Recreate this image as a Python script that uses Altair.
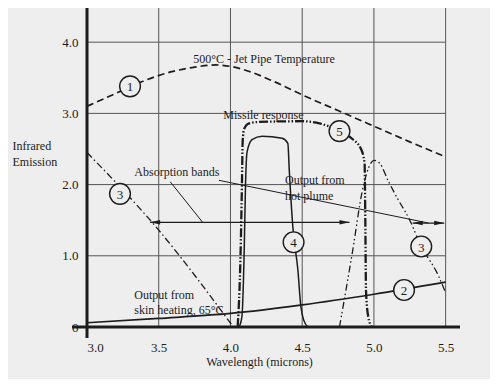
import altair as alt
import pandas as pd

# ---- data ----
c1_x = [3.0, 3.2, 3.4, 3.6, 3.75, 3.9, 4.0, 4.1, 4.3, 4.5, 4.75, 5.0, 5.25, 5.5]
c1_y = [3.10, 3.28, 3.46, 3.59, 3.65, 3.68, 3.66, 3.61, 3.45, 3.26, 3.04, 2.82, 2.60, 2.39]

c2_x = [3.0, 3.5, 4.0, 4.5, 5.0, 5.5]
c2_y = [0.06, 0.12, 0.19, 0.31, 0.46, 0.63]

c3a_x = [3.0, 3.5, 4.02]
c3a_y = [2.45, 1.36, 0.0]

c3b_x = [4.76, 4.85, 4.92, 4.96, 5.0, 5.04, 5.1, 5.16, 5.25, 5.33, 5.44, 5.5]
c3b_y = [0.0, 1.05, 1.92, 2.22, 2.34, 2.30, 2.05, 1.82, 1.50, 1.13, 0.76, 0.48]

c4_x = [4.06, 4.08, 4.095, 4.105, 4.115, 4.15, 4.22, 4.36, 4.40, 4.41, 4.435, 4.47, 4.49, 4.51, 4.54]
c4_y = [0.0, 0.15, 1.0, 2.0, 2.45, 2.63, 2.68, 2.65, 2.58, 2.20, 1.40, 0.80, 0.30, 0.10, 0.0]

c5_x = [4.05, 4.07, 4.08, 4.085, 4.095, 4.13, 4.2, 4.5, 4.62, 4.76, 4.85, 4.91, 4.935, 4.94, 4.945, 4.96, 4.985]
c5_y = [0.0, 1.0, 2.0, 2.6, 2.78, 2.86, 2.88, 2.89, 2.86, 2.75, 2.64, 2.50, 2.30, 1.50, 0.50, 0.15, 0.0]

marker_text = ["1", "2", "3", "3", "4", "5"]
marker_x = [3.30, 5.21, 3.23, 5.33, 4.44, 4.76]
marker_y = [3.38, 0.52, 1.87, 1.13, 1.19, 2.75]

label_text = ["500\u00b0C - Jet Pipe Temperature", "Missile response", "Absorption bands",
              "Output from", "hot plume", "Output from", "skin heating, 65\u00b0C"]
label_x = [3.74, 3.95, 3.33, 4.38, 4.38, 3.33, 3.33]
label_y = [3.76, 2.975, 2.175, 2.06, 1.84, 0.45, 0.24]

band_x1 = [3.44, 5.27]
band_x2 = [4.83, 5.49]
band_y = [1.47, 1.46]

leader_x1 = [3.58, 3.92]
leader_y1 = [2.04, 2.06]
leader_x2 = [3.81, 5.38]
leader_y2 = [1.46, 1.46]

x_ticks = [3.0, 3.5, 4.0, 4.5, 5.0, 5.5]
y_ticks = [0, 1, 2, 3, 4]
grid_x = [3.5, 4.0, 4.5, 5.0, 5.5]
grid_y = [1, 2, 3, 4]

# ---- styling ----
BG = "#eeeeee"
INK = "#1c1c1c"
GRID = "#555555"
FONT = "Liberation Serif"
W, H = 373, 319

X = alt.X("x:Q", scale=alt.Scale(domain=[3.0, 5.6], nice=False, zero=False),
          axis=alt.Axis(values=x_ticks, format=".1f", title="Wavelength (microns)",
                        grid=False, domain=False, ticks=False, tickSize=0,
                        labelPadding=14, labelFontSize=13, labelFont=FONT, labelColor=INK,
                        titleFont=FONT, titleFontSize=12, titleFontWeight="normal",
                        titleColor=INK, titleX=172, titleY=29, titleBaseline="top"))
Y = alt.Y("y:Q", scale=alt.Scale(domain=[0, 4.48], nice=False, zero=True),
          axis=alt.Axis(values=y_ticks,
                        labelExpr="datum.value == 0 ? '0' : format(datum.value, '.1f')",
                        title=["Infrared", "Emission"], titleAngle=0, titleAlign="left",
                        titleBaseline="top", titleX=-75, titleY=132, titleLineHeight=16,
                        grid=False, domain=False, ticks=False, tickSize=0,
                        labelPadding=9, labelFontSize=13, labelFont=FONT, labelColor=INK,
                        titleFont=FONT, titleFontSize=12, titleFontWeight="normal",
                        titleColor=INK))


def line_df(xs, ys):
    return pd.DataFrame({"x": xs, "y": ys, "i": list(range(len(xs)))})


def curve(xs, ys, dash, width):
    kw = dict(color=INK, strokeWidth=width, interpolate="monotone")
    if dash:
        kw["strokeDash"] = dash
    return alt.Chart(line_df(xs, ys)).mark_line(**kw).encode(
        x=X, y=Y, order="i:Q")


vgrid = alt.Chart(pd.DataFrame({"x": grid_x})).mark_rule(color=GRID, strokeWidth=1).encode(x=X)
hgrid = alt.Chart(pd.DataFrame({"y": grid_y, "x": [3.0] * len(grid_y), "x2": [5.5] * len(grid_y)})
                  ).mark_rule(color=GRID, strokeWidth=1).encode(x=X, x2="x2:Q", y=Y)

yaxis_line = alt.Chart(pd.DataFrame({"x": [3.0]})).mark_rule(color=INK, strokeWidth=3).encode(
    x=X, y=alt.value(0), y2=alt.value(H + 11))
xaxis_line = alt.Chart(pd.DataFrame({"y": [0]})).mark_rule(color=INK, strokeWidth=3).encode(
    y=Y, x=alt.value(-15), x2=alt.value(W))

l1 = curve(c1_x, c1_y, [7, 4], 1.7)
l2 = curve(c2_x, c2_y, None, 1.7)
l3a = curve(c3a_x, c3a_y, [7, 3, 1.5, 3], 1.3)
l3b = curve(c3b_x, c3b_y, [7, 3, 1.5, 2.5, 1.5, 3], 1.3)
l4 = curve(c4_x, c4_y, None, 1.5)
l5 = curve(c5_x, c5_y, [9, 2, 1.5, 2, 1.5, 2], 2.3)

bands = alt.Chart(pd.DataFrame({"x": band_x1, "x2": band_x2, "y": band_y})).mark_rule(
    color=INK, strokeWidth=1.2).encode(x=X, x2="x2:Q", y=Y)
leaders = alt.Chart(pd.DataFrame({"x": leader_x1, "y": leader_y1, "x2": leader_x2, "y2": leader_y2})
                    ).mark_rule(color=INK, strokeWidth=1).encode(x=X, y=Y, x2="x2:Q", y2="y2:Q")

head_l = alt.Chart(pd.DataFrame({"x": [b + 0.035 for b in band_x1], "y": band_y})).mark_point(
    shape="M-1,0L1,-0.45L1,0.45Z", filled=True, color=INK, size=100, opacity=1).encode(x=X, y=Y)
head_r = alt.Chart(pd.DataFrame({"x": [b - 0.035 for b in band_x2], "y": band_y})).mark_point(
    shape="M1,0L-1,-0.45L-1,0.45Z", filled=True, color=INK, size=100, opacity=1).encode(x=X, y=Y)

mdf = pd.DataFrame({"x": marker_x, "y": marker_y, "t": marker_text})
circles = alt.Chart(mdf).mark_point(shape="circle", size=430, filled=False, fill=BG,
                                    fillOpacity=1, stroke=INK, strokeWidth=1.4,
                                    opacity=1).encode(x=X, y=Y)
nums = alt.Chart(mdf).mark_text(font=FONT, fontSize=13, color=INK, baseline="middle",
                                align="center", dy=1).encode(x=X, y=Y, text="t:N")

labels = alt.Chart(pd.DataFrame({"x": label_x, "y": label_y, "t": label_text})).mark_text(
    font=FONT, fontSize=12, color=INK, align="left", baseline="middle").encode(
    x=X, y=Y, text="t:N")

chart = alt.layer(
    vgrid, hgrid, l1, l2, l3a, l3b, l4, l5, bands, leaders, head_l, head_r,
    yaxis_line, xaxis_line, circles, nums, labels
).properties(
    width=W, height=H,
    autosize=alt.AutoSizeParams(type="none"),
    padding={"left": 79, "top": 0, "right": 30, "bottom": 52},
    background=BG,
).configure_view(stroke=None)

chart.save("out.html", embed_options={"renderer": "svg", "actions": False})
